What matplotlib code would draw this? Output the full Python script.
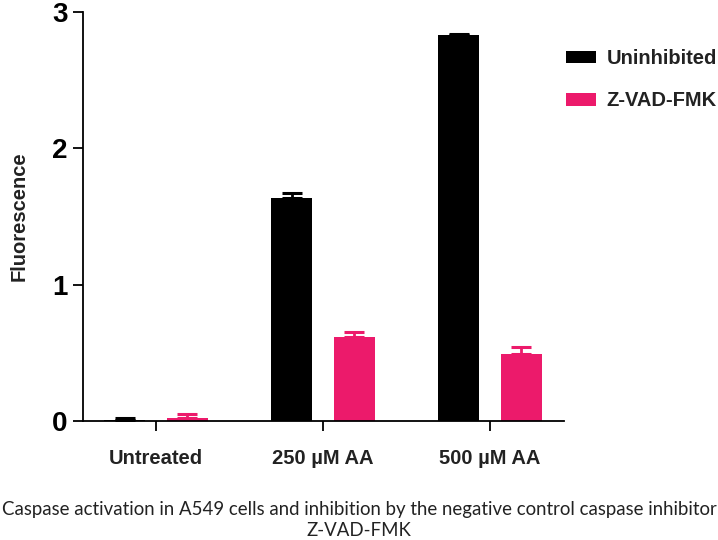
import numpy as np
import matplotlib.pyplot as plt

groups = ["Untreated", "250 µM AA", "500 µM AA"]
series = ["Uninhibited", "Z-VAD-FMK"]
uninhibited = [0.005, 1.635, 2.83]
uninhibited_err = [0.015, 0.04, 0.01]
zvad = [0.02, 0.615, 0.49]
zvad_err = [0.03, 0.035, 0.05]
colors = ["#000000", "#EC1A6B"]

plt.rcParams['font.family'] = ['Liberation Sans', 'DejaVu Sans']

fig = plt.figure(figsize=(7.18, 5.4), dpi=100)
ax = fig.add_axes([83 / 718, 1 - 421 / 540, (564 - 83) / 718, (421 - 12) / 540])

x = np.arange(len(groups))
w = 0.246
off = 0.186
for vals, errs, c, lab, d in [(uninhibited, uninhibited_err, colors[0], series[0], -off),
                              (zvad, zvad_err, colors[1], series[1], off)]:
    ax.bar(x + d, vals, w, color=c, label=lab, zorder=2)
    ax.errorbar(x + d, vals, yerr=[np.zeros(len(vals)), errs], fmt='none',
                ecolor=c, elinewidth=2, capsize=7, capthick=2.2, zorder=3)

ax.set_xlim(-0.437, 2.443)
ax.set_ylim(0, 3)
ax.set_yticks([0, 1, 2, 3])
ax.set_xticks(x)
ax.set_xticklabels(groups, fontsize=14.5, fontweight='bold', color='#222222')
for t in ax.get_yticklabels():
    t.set_fontsize(20)
    t.set_fontweight('bold')
ax.tick_params(axis='both', length=7, width=1.3, direction='out', pad=4)
ax.tick_params(axis='x', pad=13)
ax.spines['top'].set_visible(False)
ax.spines['right'].set_visible(False)
for s in ['left', 'bottom']:
    ax.spines[s].set_linewidth(1.3)
ax.set_ylabel("Fluorescence", fontsize=14.5, fontweight='bold', color='#222222', labelpad=17)

leg = ax.legend(loc='upper left', bbox_to_anchor=(548 / 718, 1 - 31 / 540),
                bbox_transform=fig.transFigure, frameon=False,
                prop={'size': 14.5, 'weight': 'bold'}, handlelength=1.5,
                handleheight=0.6, handletextpad=0.5, labelspacing=1.15)
for t in leg.get_texts():
    t.set_color('#222222')

fig.text(0.5, 1 - 509 / 540, "Caspase activation in A549 cells and inhibition by the negative control caspase inhibitor",
         ha='center', va='center', fontsize=13.4, family=['Lato', 'DejaVu Sans'], color='#222222')
fig.text(0.5, 1 - 531 / 540, "Z-VAD-FMK",
         ha='center', va='center', fontsize=13.4, family=['Lato', 'DejaVu Sans'], color='#222222')

fig.savefig("out.png", dpi=100)
